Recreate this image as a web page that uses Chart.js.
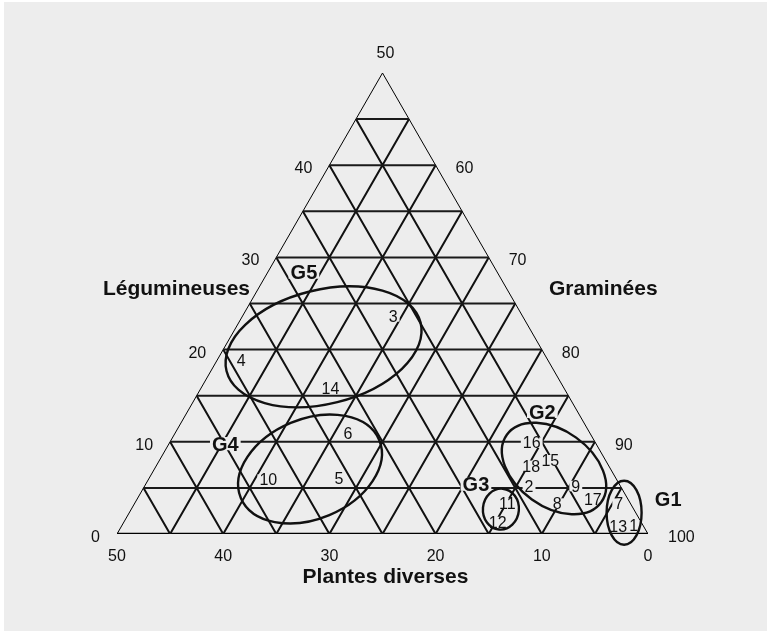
<!DOCTYPE html>
<html>
<head>
<meta charset="utf-8">
<script src="https://cdn.jsdelivr.net/npm/chart.js@4/dist/chart.umd.min.js"></script>
<style>
  html, body { margin: 0; padding: 0; background: #ffffff; }
  #wrap { position: absolute; left: 0; top: 0; width: 767px; height: 631px; }
</style>
</head>
<body>
<div id="wrap"><canvas id="c" width="767" height="631"></canvas></div>
<script>
// ---------- DATA ----------
const axisTitles = ['Légumineuses', 'Graminées', 'Plantes diverses'];
const legTicks = [0, 10, 20, 30, 40, 50];          // Légumineuses (left side)
const gramTicks = [60, 70, 80, 90, 100];           // Graminées (right side)
const plantTicks = [50, 40, 30, 20, 10, 0];        // Plantes diverses (bottom)
const gridLevels = [5, 10, 15, 20, 25, 30, 35, 40, 45];

const sampleIds    = ['1','2','3','4','5','6','7','8','9','10','11','12','13','14','15','16','17','18'];
const legValues    = [0.9, 5.2, 23.6, 18.8, 6.0, 10.9, 3.3, 3.3, 5.2, 5.9, 3.3, 1.3, 0.8, 15.8, 8.0, 9.9, 3.8, 7.4];
const plantValues  = [0.9, 8.6, 12.2, 28.9, 26.1, 22.8, 1.1, 6.9, 4.2, 32.8, 11.6, 13.5, 2.4, 22.0, 5.2, 6.0, 3.3, 7.3];
const gramValues   = [98.2, 86.2, 64.2, 52.3, 67.9, 66.3, 95.6, 89.8, 90.6, 61.3, 85.1, 85.2, 96.8, 62.2, 86.8, 84.1, 92.9, 85.3];

const groupNames       = ['G1', 'G2', 'G3', 'G4', 'G5'];
const groupLabelLeg    = [3.8, 13.3, 5.4, 9.8, 28.4];
const groupLabelPlant  = [-3.8, 3.3, 13.5, 34.9, 18.2];
const groupCenterLeg   = [2.3, 7.1, 2.7, 7.05, 20.3];
const groupCenterPlant = [1.1, 5.3, 12.5, 28.3, 20.4];

// ---------- STYLE (ellipse shapes in px / degrees) ----------
const ellipseStyle = {
  rx:    [17.5, 58, 18, 75, 100],
  ry:    [32, 38, 20.5, 50, 57],
  angle: [0, 35.6, 5, -22.7, -14]
};
const BG = '#ededed';
const FONT = '"Liberation Sans", Arial, Helvetica, sans-serif';

// ternary (L, P) -> cartesian chart coordinates
function tern(L, P) { return { x: 50 - P - L / 2, y: L }; }

function segPoints(pairs) {
  const pts = [];
  pairs.forEach(([a, b]) => { pts.push(a, b, { x: b.x, y: null }); });
  return pts;
}

const hLines = segPoints(gridLevels.map(l => [tern(l, 50 - l), tern(l, 0)]));
const pLines = gridLevels.map(p => [tern(0, p), tern(50 - p, p)]);
const gLines = gridLevels.map(v => 100 - v).map(g => [tern(0, 100 - g), tern(100 - g, 0)]);
const diagLines = segPoints(pLines.concat(gLines));
const sides = segPoints([[tern(0, 50), tern(50, 0)], [tern(50, 0), tern(0, 0)]]);
const base = [tern(0, 50), tern(0, 0)];

const samplePts = sampleIds.map((id, i) => tern(legValues[i], plantValues[i]));

const decor = {
  id: 'ternaryDecor',
  beforeDraw(chart) {
    const ctx = chart.ctx;
    ctx.save();
    ctx.fillStyle = BG;
    ctx.fillRect(4, 2, chart.width - 4, chart.height - 2);
    ctx.restore();
  },
  afterDatasetsDraw(chart) {
    const ctx = chart.ctx;
    const xs = chart.scales.x, ys = chart.scales.y;
    const px = (L, P) => { const c = tern(L, P); return { x: xs.getPixelForValue(c.x), y: ys.getPixelForValue(c.y) }; };
    ctx.save();

    // label boxes + text
    const labels = [];
    sampleIds.forEach((id, i) => labels.push({ t: id, p: px(legValues[i], plantValues[i]), f: '16px ' + FONT, s: 16 }));
    groupNames.forEach((g, i) => labels.push({ t: g, p: px(groupLabelLeg[i], groupLabelPlant[i]), f: 'bold 20px ' + FONT, s: 20 }));
    labels.forEach(l => {
      ctx.font = l.f;
      const w = ctx.measureText(l.t).width;
      const h = l.s * 0.66;
      ctx.fillStyle = BG;
      ctx.fillRect(l.p.x - w / 2 - 2, l.p.y - h / 2, w + 4, h);
    });
    ctx.textAlign = 'center';
    ctx.textBaseline = 'alphabetic';
    labels.forEach(l => {
      ctx.font = l.f;
      ctx.fillStyle = '#111';
      ctx.fillText(l.t, l.p.x, l.p.y + l.s * 0.36);
    });

    // ellipses
    ctx.strokeStyle = '#111';
    ctx.lineWidth = 2.4;
    groupNames.forEach((g, i) => {
      const c = px(groupCenterLeg[i], groupCenterPlant[i]);
      ctx.beginPath();
      ctx.ellipse(c.x, c.y, ellipseStyle.rx[i], ellipseStyle.ry[i], ellipseStyle.angle[i] * Math.PI / 180, 0, Math.PI * 2);
      ctx.stroke();
    });

    // tick labels
    ctx.font = '16px ' + FONT;
    ctx.fillStyle = '#111';
    legTicks.forEach(l => {
      const p = px(l, 50 - l);
      if (l === 50) {
        ctx.textAlign = 'center';
        ctx.fillText(String(l), p.x + 3, p.y - 15);
      } else {
        ctx.textAlign = 'right';
        ctx.fillText(String(l), p.x - 17, p.y + 8);
      }
    });
    ctx.textAlign = 'left';
    gramTicks.forEach(g => {
      const p = px(100 - g, 0);
      ctx.fillText(String(g), p.x + 20, p.y + 8);
    });
    ctx.textAlign = 'center';
    plantTicks.forEach(v => {
      const p = px(0, v);
      ctx.fillText(String(v), p.x, p.y + 27);
    });

    // axis titles
    ctx.font = 'bold 21px ' + FONT;
    const a = chart.chartArea;
    ctx.textAlign = 'right';
    ctx.fillText(axisTitles[0], 250, 295);
    ctx.textAlign = 'left';
    ctx.fillText(axisTitles[1], 549, 295);
    ctx.textAlign = 'center';
    ctx.fillText(axisTitles[2], (a.left + a.right) / 2 + 3, a.bottom + 49);
    ctx.restore();
  }
};

new Chart(document.getElementById('c'), {
  type: 'scatter',
  data: {
    datasets: [
      { data: hLines, showLine: true, pointRadius: 0, borderColor: '#1a1a1a', borderWidth: 2, spanGaps: false },
      { data: diagLines, showLine: true, pointRadius: 0, borderColor: '#111', borderWidth: 2, spanGaps: false },
      { data: sides, showLine: true, pointRadius: 0, borderColor: '#000', borderWidth: 1, spanGaps: false },
      { data: base, showLine: true, pointRadius: 0, borderColor: '#000', borderWidth: 2.5 },
      { data: samplePts, showLine: false, pointRadius: 0 }
    ]
  },
  options: {
    responsive: false,
    animation: false,
    layout: { padding: { left: 117, right: 119, top: 73, bottom: 97 } },
    plugins: { legend: { display: false }, tooltip: { enabled: false } },
    scales: {
      x: { type: 'linear', min: 0, max: 50, display: false },
      y: { type: 'linear', min: 0, max: 50, display: false }
    }
  },
  plugins: [decor]
});
</script>
</body>
</html>
